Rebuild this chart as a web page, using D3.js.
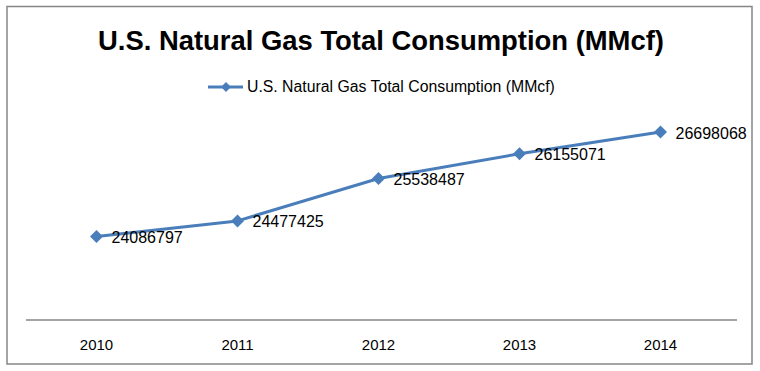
<!DOCTYPE html>
<html>
<head>
<meta charset="utf-8">
<script src="https://cdn.jsdelivr.net/npm/d3@7"></script>
<style>
  html, body { margin: 0; padding: 0; background: #fff; }
  svg { display: block; }
</style>
</head>
<body>
<svg id="chart" width="760" height="371"></svg>
<script>
const titleText = "U.S. Natural Gas Total Consumption (MMcf)";
const seriesName = "U.S. Natural Gas Total Consumption (MMcf)";
const years = ["2010", "2011", "2012", "2013", "2014"];
const consumption = [24086797, 24477425, 25538487, 26155071, 26698068];
const yDomain = [22000000, 28000000];

const color = "#4A7EBB";
const svg = d3.select("#chart");
const W = 760, H = 371;

svg.append("rect").attr("width", W).attr("height", H).attr("fill", "#fff");
svg.append("rect")
  .attr("x", 7).attr("y", 6.5).attr("width", 745).attr("height", 357.5)
  .attr("fill", "none").attr("stroke", "#868686").attr("stroke-width", 1.5);

const plot = { left: 26, right: 731, top: 80, bottom: 320 };
const x = d3.scaleBand().domain(years).range([plot.left, plot.right]);
const y = d3.scaleLinear().domain(yDomain).range([plot.bottom, plot.top]);

// Title (fit to target width)
const title = svg.append("text")
  .attr("x", 381).attr("y", 50)
  .attr("text-anchor", "middle")
  .attr("font-family", "'Liberation Sans', Arial, sans-serif")
  .attr("font-weight", "bold")
  .attr("font-size", 28)
  .attr("fill", "#000")
  .text(titleText);
{
  const w = title.node().getComputedTextLength();
  title.attr("font-size", 28 * 566 / w);
}

// diamond = rotated square
const diamondPath = s => d3.symbol().type(d3.symbolSquare).size(s)();

// Legend
const legY = 87;
svg.append("line").attr("x1", 208).attr("x2", 243).attr("y1", legY).attr("y2", legY)
  .attr("stroke", color).attr("stroke-width", 3);
svg.append("path").attr("d", diamondPath(50))
  .attr("transform", `translate(226,${legY}) rotate(45)`).attr("fill", color);
const legText = svg.append("text")
  .attr("x", 247).attr("y", legY + 5)
  .attr("font-family", "'Liberation Sans', Arial, sans-serif")
  .attr("font-size", 14).attr("fill", "#000")
  .text(seriesName);
{
  const w = legText.node().getComputedTextLength();
  legText.attr("font-size", 14 * 308 / w);
}

// X axis
const xAxis = d3.axisBottom(x).tickSize(0).tickPadding(0);
const gx = svg.append("g").attr("transform", `translate(0,${plot.bottom})`).call(xAxis);
gx.select(".domain").attr("stroke", "#868686").attr("stroke-width", 1.3)
  .attr("d", `M${plot.left},0H737`);
gx.selectAll("text")
  .attr("y", 30).attr("dy", 0)
  .attr("font-family", "'Liberation Sans', Arial, sans-serif")
  .attr("font-size", 15).attr("fill", "#000");

// Line
const cx = d => x(d) + x.bandwidth() / 2;
const data = years.map((yr, i) => ({ yr, v: consumption[i] }));
svg.append("path").datum(data)
  .attr("fill", "none").attr("stroke", color).attr("stroke-width", 3)
  .attr("stroke-linejoin", "round")
  .attr("d", d3.line().x(d => cx(d.yr)).y(d => y(d.v)));

svg.selectAll(".mk").data(data).enter().append("path")
  .attr("d", diamondPath(85))
  .attr("transform", d => `translate(${cx(d.yr)},${y(d.v)}) rotate(45)`)
  .attr("fill", color);

svg.selectAll(".lbl").data(data).enter().append("text")
  .attr("x", d => cx(d.yr) + 15)
  .attr("y", d => y(d.v) + 6.5)
  .attr("font-family", "'Liberation Sans', Arial, sans-serif")
  .attr("font-size", 16).attr("fill", "#000")
  .text(d => d.v);
</script>
</body>
</html>
